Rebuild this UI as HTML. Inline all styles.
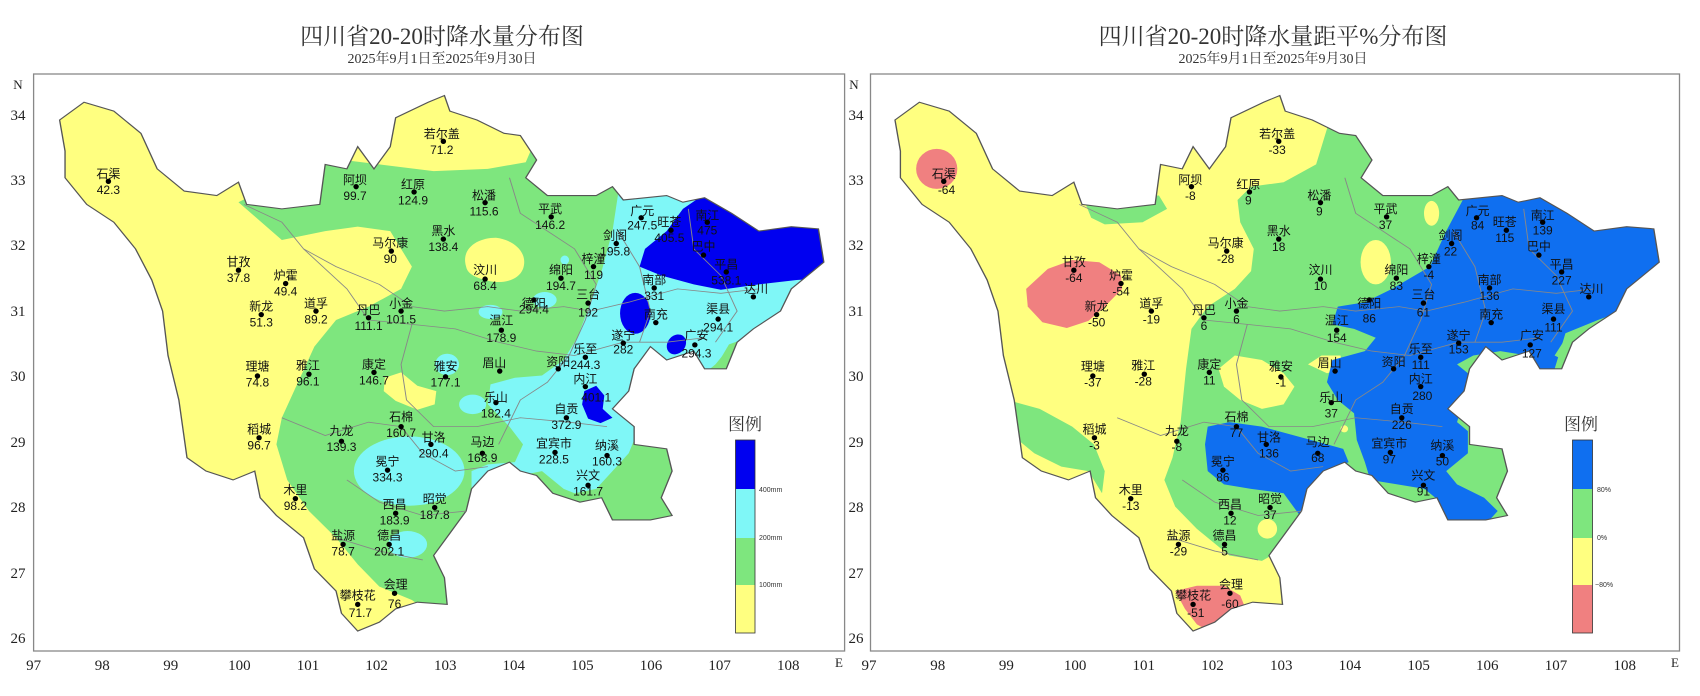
<!DOCTYPE html>
<html><head><meta charset="utf-8"><style>
html,body{margin:0;padding:0;background:#fff;}
svg{display:block;font-family:"Liberation Serif","Noto Serif CJK SC","Noto Sans CJK SC",serif;}
.st{font-size:12px;fill:#111;text-anchor:middle;font-family:"Liberation Sans","Noto Sans CJK SC",sans-serif;}
.ax{font-size:15px;fill:#222;}
</style></head><body>
<svg width="1700" height="696" viewBox="0 0 1700 696" xmlns="http://www.w3.org/2000/svg">
<defs>
<path id="ol" d="M110,270 L155,230 L210,250 L260,300 L290,380 L340,430 L400,440 L440,410 L455,460 L520,470 L590,460 L600,370 L640,380 L660,330 L690,380 L720,330 L730,265 L790,230 L820,215 L830,250 L880,270 L930,300 L960,305 L990,360 L970,400 L1010,440 L1100,440 L1130,420 L1150,450 L1230,440 L1260,455 L1300,445 L1350,480 L1400,520 L1460,510 L1510,515 L1520,590 L1480,630 L1460,650 L1440,700 L1390,740 L1360,770 L1340,830 L1300,830 L1280,790 L1230,810 L1200,780 L1170,830 L1160,880 L1130,920 L1170,960 L1170,1000 L1230,1010 L1240,1060 L1220,1120 L1240,1160 L1200,1170 L1130,1170 L1110,1120 L1070,1130 L1020,1110 L990,1070 L960,1060 L940,1040 L900,1060 L870,1100 L860,1150 L830,1200 L800,1250 L820,1300 L825,1360 L770,1355 L730,1370 L700,1400 L660,1420 L630,1380 L620,1330 L580,1280 L560,1210 L510,1160 L480,1120 L470,1060 L430,1080 L380,1060 L345,1030 L330,900 L310,800 L300,700 L280,630 L250,560 L210,500 L160,460 L120,400 L120,340 Z"/>
<clipPath id="c1"><use href="#ol"/></clipPath>
<clipPath id="c2"><use href="#ol" transform="translate(-27,0)"/></clipPath>
</defs>

<!-- Titles -->
<text x="442" y="44" font-size="23" text-anchor="middle" fill="#333">四川省20-20时降水量分布图</text>
<text x="442" y="63" font-size="14" text-anchor="middle" fill="#333">2025年9月1日至2025年9月30日</text>
<text x="1273" y="44" font-size="23" text-anchor="middle" fill="#333">四川省20-20时降水量距平%分布图</text>
<text x="1273" y="63" font-size="14" text-anchor="middle" fill="#333">2025年9月1日至2025年9月30日</text>

<!-- Frames -->
<rect x="33.6" y="74" width="811" height="577" fill="none" stroke="#888" stroke-width="1.3"/>
<rect x="870.5" y="74" width="809" height="577" fill="none" stroke="#888" stroke-width="1.3"/>

<!-- Left axes labels -->
<g class="ax" text-anchor="middle">
<text x="33.6" y="670">97</text><text x="102.2" y="670">98</text><text x="170.8" y="670">99</text><text x="239.4" y="670">100</text><text x="308" y="670">101</text><text x="376.6" y="670">102</text><text x="445.2" y="670">103</text><text x="513.8" y="670">104</text><text x="582.4" y="670">105</text><text x="651" y="670">106</text><text x="719.6" y="670">107</text><text x="788.2" y="670">108</text><text x="839" y="667" font-size="13">E</text>
<text x="18" y="89" font-size="13">N</text>
<text x="18" y="120">34</text><text x="18" y="185">33</text><text x="18" y="250">32</text><text x="18" y="316">31</text><text x="18" y="381">30</text><text x="18" y="447">29</text><text x="18" y="512">28</text><text x="18" y="578">27</text><text x="18" y="643">26</text>
</g>
<!-- Right axes labels -->
<g class="ax" text-anchor="middle">
<text x="869" y="670">97</text><text x="937.7" y="670">98</text><text x="1006.4" y="670">99</text><text x="1075.1" y="670">100</text><text x="1143.8" y="670">101</text><text x="1212.5" y="670">102</text><text x="1281.2" y="670">103</text><text x="1349.9" y="670">104</text><text x="1418.6" y="670">105</text><text x="1487.3" y="670">106</text><text x="1556" y="670">107</text><text x="1624.7" y="670">108</text><text x="1675" y="667" font-size="13">E</text>
<text x="854" y="89" font-size="13">N</text>
<text x="856" y="120">34</text><text x="856" y="185">33</text><text x="856" y="250">32</text><text x="856" y="316">31</text><text x="856" y="381">30</text><text x="856" y="447">29</text><text x="856" y="512">28</text><text x="856" y="578">27</text><text x="856" y="643">26</text>
</g>

<!-- LEFT MAP -->
<g transform="scale(0.542,0.4444)">
 <g clip-path="url(#c1)">
  <rect x="0" y="0" width="1700" height="1600" fill="#ffff80"/>
  <polygon fill="#7ee67e" points="440,455 600,355 700,370 800,385 900,380 970,365 1000,280 1600,280 1600,1500 840,1420 760,1350 700,1320 660,1270 620,1210 570,1150 530,1080 510,1000 520,940 550,860 580,780 620,720 680,690 740,650 760,600 720,520 660,510 600,520 520,540"/>
  <path fill="#ffff80" d="M860,600 C850,560 880,535 915,535 C950,540 975,570 965,605 C955,635 920,640 895,630 C870,622 862,612 860,600 Z"/>
  <polygon fill="#ffff80" points="710,850 740,838 770,868 805,880 802,910 770,922 730,902 708,880"/>
  <polygon fill="#7ff7f7" points="1140,400 1140,440 1130,520 1110,610 1090,680 1065,760 1040,810 1000,845 950,850 905,865 900,910 940,960 965,1000 950,1040 900,1045 870,1060 870,1140 900,1100 960,1070 1000,1060 1020,1080 1040,1100 1060,1110 1100,1100 1130,1060 1160,1020 1170,990 1180,960 1180,880 1290,850 1320,820 1340,790 1370,770 1390,740 1440,700 1600,600 1600,400"/>
  <polygon fill="#7ee67e" points="1328,810 1345,775 1368,765 1362,805 1340,830"/>
  <ellipse cx="755" cy="1060" rx="102" ry="78" fill="#7ff7f7"/>
  <ellipse cx="825" cy="820" rx="22" ry="24" fill="#7ff7f7"/>
  <ellipse cx="872" cy="910" rx="25" ry="22" fill="#7ff7f7"/>
  <ellipse cx="1005" cy="675" rx="22" ry="18" fill="#7ff7f7"/>
  <ellipse cx="905" cy="702" rx="22" ry="16" fill="#7ff7f7"/>
  <ellipse cx="1042" cy="585" rx="8" ry="10" fill="#7ff7f7"/>
  <ellipse cx="752" cy="1225" rx="36" ry="30" fill="#7ff7f7"/>
  <polygon fill="#0000f0" points="1180,600 1190,560 1230,520 1260,470 1290,445 1600,400 1600,620 1470,630 1400,640 1330,652 1280,640 1220,620"/>
  <ellipse cx="1172" cy="705" rx="28" ry="46" fill="#0000f0"/>
  <ellipse cx="1248" cy="775" rx="17" ry="23" fill="#0000f0" transform="rotate(20 1248 775)"/>
  <polygon fill="#0000f0" points="1078,880 1100,868 1115,890 1112,920 1130,940 1108,952 1085,942 1074,910"/>
 </g>
 <use href="#ol" fill="none" stroke="#555" stroke-width="2.5"/>
 <g fill="none" stroke="#888" stroke-width="1.8">
  <path d="M450,460 L520,500 L560,560 L620,600 L700,640 L760,690 L820,700 L900,690 L960,700 L1040,690 L1090,700 L1160,680 L1250,650 L1330,660 L1400,650"/>
  <path d="M560,560 L640,650 L680,720 L760,730 L840,740 L920,770 L990,790 L1060,800 L1150,770 L1230,770 L1300,760"/>
  <path d="M760,730 L740,820 L750,900 L800,960 L880,960 L960,940 L1050,950 L1120,960"/>
  <path d="M940,400 L960,480 L1010,520 L1060,560 L1100,640 L1080,720 L1050,800 L1010,860 L960,900 L920,1000"/>
  <path d="M1140,520 L1180,600 L1200,700 L1180,770"/>
  <path d="M1270,470 L1280,560 L1330,620 L1360,700 L1320,770"/>
  <path d="M520,940 L600,980 L680,950 L740,960 L780,1020 L840,1060 L900,1050"/>
  <path d="M640,1080 L700,1130 L780,1160 L860,1150"/>
  <path d="M620,1210 L700,1240 L780,1260"/>
 </g>
</g>
<g transform="scale(0.542,0.4444)">
 <g fill="#000">
 <ellipse cx="200" cy="408" rx="5" ry="6"/><ellipse cx="818" cy="318" rx="5" ry="6"/><ellipse cx="657" cy="420" rx="5" ry="6"/><ellipse cx="764" cy="432" rx="5" ry="6"/><ellipse cx="895" cy="456" rx="5" ry="6"/><ellipse cx="1017" cy="488" rx="5" ry="6"/><ellipse cx="1183" cy="490" rx="5" ry="6"/><ellipse cx="1238" cy="518" rx="5" ry="6"/><ellipse cx="1305" cy="500" rx="5" ry="6"/><ellipse cx="1137" cy="548" rx="5" ry="6"/><ellipse cx="1298" cy="574" rx="5" ry="6"/><ellipse cx="1340" cy="612" rx="5" ry="6"/><ellipse cx="722" cy="565" rx="5" ry="6"/><ellipse cx="818" cy="538" rx="5" ry="6"/><ellipse cx="895" cy="628" rx="5" ry="6"/><ellipse cx="1035" cy="626" rx="5" ry="6"/><ellipse cx="1095" cy="600" rx="5" ry="6"/><ellipse cx="440" cy="608" rx="5" ry="6"/><ellipse cx="527" cy="638" rx="5" ry="6"/><ellipse cx="482" cy="708" rx="5" ry="6"/><ellipse cx="583" cy="700" rx="5" ry="6"/><ellipse cx="680" cy="715" rx="5" ry="6"/><ellipse cx="740" cy="700" rx="5" ry="6"/><ellipse cx="985" cy="675" rx="5" ry="6"/><ellipse cx="1085" cy="682" rx="5" ry="6"/><ellipse cx="1207" cy="648" rx="5" ry="6"/><ellipse cx="1390" cy="668" rx="5" ry="6"/><ellipse cx="1210" cy="726" rx="5" ry="6"/><ellipse cx="1325" cy="718" rx="5" ry="6"/><ellipse cx="925" cy="743" rx="5" ry="6"/><ellipse cx="1150" cy="772" rx="5" ry="6"/><ellipse cx="1282" cy="776" rx="5" ry="6"/><ellipse cx="475" cy="846" rx="5" ry="6"/><ellipse cx="570" cy="842" rx="5" ry="6"/><ellipse cx="690" cy="838" rx="5" ry="6"/><ellipse cx="822" cy="848" rx="5" ry="6"/><ellipse cx="922" cy="835" rx="5" ry="6"/><ellipse cx="1030" cy="830" rx="5" ry="6"/><ellipse cx="1080" cy="804" rx="5" ry="6"/><ellipse cx="1080" cy="870" rx="5" ry="6"/><ellipse cx="915" cy="906" rx="5" ry="6"/><ellipse cx="1045" cy="940" rx="5" ry="6"/><ellipse cx="478" cy="985" rx="5" ry="6"/><ellipse cx="630" cy="993" rx="5" ry="6"/><ellipse cx="740" cy="960" rx="5" ry="6"/><ellipse cx="795" cy="1000" rx="5" ry="6"/><ellipse cx="890" cy="1020" rx="5" ry="6"/><ellipse cx="1024" cy="1018" rx="5" ry="6"/><ellipse cx="1120" cy="1025" rx="5" ry="6"/><ellipse cx="715" cy="1058" rx="5" ry="6"/><ellipse cx="1085" cy="1092" rx="5" ry="6"/><ellipse cx="545" cy="1122" rx="5" ry="6"/><ellipse cx="730" cy="1155" rx="5" ry="6"/><ellipse cx="802" cy="1142" rx="5" ry="6"/><ellipse cx="633" cy="1225" rx="5" ry="6"/><ellipse cx="718" cy="1225" rx="5" ry="6"/><ellipse cx="728" cy="1335" rx="5" ry="6"/><ellipse cx="660" cy="1360" rx="5" ry="6"/>
 </g>
 <g class="st">
 <text transform="translate(200 400) scale(1.845 2.25)">石渠</text><text transform="translate(200 437) scale(1.845 2.25)">42.3</text>
 <text transform="translate(815 310) scale(1.845 2.25)">若尔盖</text><text transform="translate(815 346) scale(1.845 2.25)">71.2</text>
 <text transform="translate(655 414) scale(1.845 2.25)">阿坝</text><text transform="translate(655 450) scale(1.845 2.25)">99.7</text>
 <text transform="translate(762 424) scale(1.845 2.25)">红原</text><text transform="translate(762 460) scale(1.845 2.25)">124.9</text>
 <text transform="translate(893 449) scale(1.845 2.25)">松潘</text><text transform="translate(893 485) scale(1.845 2.25)">115.6</text>
 <text transform="translate(1015 479) scale(1.845 2.25)">平武</text><text transform="translate(1015 515) scale(1.845 2.25)">146.2</text>
 <text transform="translate(1185 484) scale(1.845 2.25)">广元</text><text transform="translate(1185 516) scale(1.845 2.25)">247.5</text>
 <text transform="translate(1235 509) scale(1.845 2.25)">旺苍</text><text transform="translate(1235 544) scale(1.845 2.25)">405.5</text>
 <text transform="translate(1305 494) scale(1.845 2.25)">南江</text><text transform="translate(1305 528) scale(1.845 2.25)">475</text>
 <text transform="translate(1135 539) scale(1.845 2.25)">剑阁</text><text transform="translate(1135 575) scale(1.845 2.25)">195.8</text>
 <text transform="translate(1298 564) scale(1.845 2.25)">巴中</text>
 <text transform="translate(1340 604) scale(1.845 2.25)">平昌</text><text transform="translate(1340 640) scale(1.845 2.25)">538.1</text>
 <text transform="translate(720 556) scale(1.845 2.25)">马尔康</text><text transform="translate(720 592) scale(1.845 2.25)">90</text>
 <text transform="translate(818 529) scale(1.845 2.25)">黑水</text><text transform="translate(818 565) scale(1.845 2.25)">138.4</text>
 <text transform="translate(895 617) scale(1.845 2.25)">汶川</text><text transform="translate(895 653) scale(1.845 2.25)">68.4</text>
 <text transform="translate(1035 617) scale(1.845 2.25)">绵阳</text><text transform="translate(1035 653) scale(1.845 2.25)">194.7</text>
 <text transform="translate(1095 592) scale(1.845 2.25)">梓潼</text><text transform="translate(1095 628) scale(1.845 2.25)">119</text>
 <text transform="translate(440 599) scale(1.845 2.25)">甘孜</text><text transform="translate(440 635) scale(1.845 2.25)">37.8</text>
 <text transform="translate(527 629) scale(1.845 2.25)">炉霍</text><text transform="translate(527 665) scale(1.845 2.25)">49.4</text>
 <text transform="translate(482 699) scale(1.845 2.25)">新龙</text><text transform="translate(482 735) scale(1.845 2.25)">51.3</text>
 <text transform="translate(583 692) scale(1.845 2.25)">道孚</text><text transform="translate(583 728) scale(1.845 2.25)">89.2</text>
 <text transform="translate(680 707) scale(1.845 2.25)">丹巴</text><text transform="translate(680 743) scale(1.845 2.25)">111.1</text>
 <text transform="translate(740 692) scale(1.845 2.25)">小金</text><text transform="translate(740 728) scale(1.845 2.25)">101.5</text>
 <text transform="translate(985 692) scale(1.845 2.25)">德阳</text><text transform="translate(985 706) scale(1.845 2.25)">294.4</text>
 <text transform="translate(1085 672) scale(1.845 2.25)">三台</text><text transform="translate(1085 712) scale(1.845 2.25)">192</text>
 <text transform="translate(1207 639) scale(1.845 2.25)">南部</text><text transform="translate(1207 675) scale(1.845 2.25)">331</text>
 <text transform="translate(1395 659) scale(1.845 2.25)">达川</text>
 <text transform="translate(1210 717) scale(1.845 2.25)">南充</text>
 <text transform="translate(1325 704) scale(1.845 2.25)">渠县</text><text transform="translate(1325 746) scale(1.845 2.25)">294.1</text>
 <text transform="translate(925 730) scale(1.845 2.25)">温江</text><text transform="translate(925 770) scale(1.845 2.25)">178.9</text>
 <text transform="translate(1150 764) scale(1.845 2.25)">遂宁</text><text transform="translate(1150 796) scale(1.845 2.25)">282</text>
 <text transform="translate(1285 764) scale(1.845 2.25)">广安</text><text transform="translate(1285 804) scale(1.845 2.25)">294.3</text>
 <text transform="translate(475 834) scale(1.845 2.25)">理塘</text><text transform="translate(475 870) scale(1.845 2.25)">74.8</text>
 <text transform="translate(568 832) scale(1.845 2.25)">雅江</text><text transform="translate(568 868) scale(1.845 2.25)">96.1</text>
 <text transform="translate(690 829) scale(1.845 2.25)">康定</text><text transform="translate(690 865) scale(1.845 2.25)">146.7</text>
 <text transform="translate(822 834) scale(1.845 2.25)">雅安</text><text transform="translate(822 870) scale(1.845 2.25)">177.1</text>
 <text transform="translate(912 826) scale(1.845 2.25)">眉山</text>
 <text transform="translate(1030 824) scale(1.845 2.25)">资阳</text>
 <text transform="translate(1080 794) scale(1.845 2.25)">乐至</text><text transform="translate(1080 830) scale(1.845 2.25)">244.3</text>
 <text transform="translate(1080 862) scale(1.845 2.25)">内江</text><text transform="translate(1100 904) scale(1.845 2.25)">401.1</text>
 <text transform="translate(915 904) scale(1.845 2.25)">乐山</text><text transform="translate(915 940) scale(1.845 2.25)">182.4</text>
 <text transform="translate(1045 929) scale(1.845 2.25)">自贡</text><text transform="translate(1045 965) scale(1.845 2.25)">372.9</text>
 <text transform="translate(478 976) scale(1.845 2.25)">稻城</text><text transform="translate(478 1012) scale(1.845 2.25)">96.7</text>
 <text transform="translate(630 979) scale(1.845 2.25)">九龙</text><text transform="translate(630 1015) scale(1.845 2.25)">139.3</text>
 <text transform="translate(740 947) scale(1.845 2.25)">石棉</text><text transform="translate(740 983) scale(1.845 2.25)">160.7</text>
 <text transform="translate(800 994) scale(1.845 2.25)">甘洛</text><text transform="translate(800 1030) scale(1.845 2.25)">290.4</text>
 <text transform="translate(890 1004) scale(1.845 2.25)">马边</text><text transform="translate(890 1040) scale(1.845 2.25)">168.9</text>
 <text transform="translate(1022 1007) scale(1.845 2.25)">宜宾市</text><text transform="translate(1022 1043) scale(1.845 2.25)">228.5</text>
 <text transform="translate(1120 1012) scale(1.845 2.25)">纳溪</text><text transform="translate(1120 1048) scale(1.845 2.25)">160.3</text>
 <text transform="translate(715 1047) scale(1.845 2.25)">冕宁</text><text transform="translate(715 1083) scale(1.845 2.25)">334.3</text>
 <text transform="translate(1085 1079) scale(1.845 2.25)">兴文</text><text transform="translate(1085 1115) scale(1.845 2.25)">161.7</text>
 <text transform="translate(545 1112) scale(1.845 2.25)">木里</text><text transform="translate(545 1148) scale(1.845 2.25)">98.2</text>
 <text transform="translate(728 1144) scale(1.845 2.25)">西昌</text><text transform="translate(728 1180) scale(1.845 2.25)">183.9</text>
 <text transform="translate(802 1132) scale(1.845 2.25)">昭觉</text><text transform="translate(802 1168) scale(1.845 2.25)">187.8</text>
 <text transform="translate(633 1214) scale(1.845 2.25)">盐源</text><text transform="translate(633 1250) scale(1.845 2.25)">78.7</text>
 <text transform="translate(718 1214) scale(1.845 2.25)">德昌</text><text transform="translate(718 1250) scale(1.845 2.25)">202.1</text>
 <text transform="translate(730 1324) scale(1.845 2.25)">会理</text><text transform="translate(728 1368) scale(1.845 2.25)">76</text>
 <text transform="translate(660 1349) scale(1.845 2.25)">攀枝花</text><text transform="translate(665 1388) scale(1.845 2.25)">71.7</text>
 </g>
</g>

<!-- Left legend -->
<text x="745" y="430" font-size="17" text-anchor="middle" fill="#333">图例</text>
<rect x="735.5" y="440" width="19.5" height="49" fill="#0000f0"/>
<rect x="735.5" y="489" width="19.5" height="49" fill="#7ff7f7"/>
<rect x="735.5" y="538" width="19.5" height="47" fill="#7ee67e"/>
<rect x="735.5" y="585" width="19.5" height="48" fill="#ffff80"/>
<rect x="735.5" y="440" width="19.5" height="193" fill="none" stroke="#333" stroke-width="0.8"/>
<g font-size="7" fill="#333" font-family="Liberation Sans,sans-serif"><text x="759" y="492">400mm</text><text x="759" y="540">200mm</text><text x="759" y="587">100mm</text></g>

<!-- RIGHT MAP -->
<g transform="translate(850,0) scale(0.542,0.4444)">
 <g clip-path="url(#c2)">
  <rect x="0" y="0" width="1700" height="1600" fill="#ffff80"/>
  <polygon fill="#7ee67e" points="880,290 860,370 800,410 740,420 715,450 720,500 745,560 740,610 710,650 660,690 630,740 620,830 610,950 595,1030 580,1080 600,1140 640,1190 700,1250 760,1262 800,1235 840,1180 900,1300 1600,1300 1600,200 900,200"/>
  <polygon fill="#7ee67e" points="430,445 570,440 585,470 540,500 470,505 445,490"/>
  <polygon fill="#7ee67e" points="290,900 350,920 410,960 450,1000 470,1060 465,1110 440,1060 390,1050 340,1020 300,980"/>
  <polygon fill="#ffff80" points="680,830 710,800 760,810 800,840 820,870 800,910 760,920 720,900 690,870"/>
  <polygon fill="#ffff80" points="845,820 870,800 905,800 910,830 880,840"/>
  <ellipse cx="970" cy="590" rx="28" ry="50" fill="#ffff80"/>
  <ellipse cx="1073" cy="480" rx="14" ry="28" fill="#ffff80"/>
  <ellipse cx="912" cy="965" rx="7" ry="8" fill="#ffff80"/>
  <ellipse cx="770" cy="1190" rx="18" ry="22" fill="#ffff80"/>
  <ellipse cx="160" cy="380" rx="38" ry="45" fill="#f08080"/>
  <polygon fill="#f08080" points="325,650 365,605 410,585 460,590 500,620 502,650 470,690 440,722 400,738 355,725 328,690"/>
  <polygon fill="#f08080" points="600,1330 640,1318 690,1318 720,1340 735,1385 700,1402 670,1425 640,1405 618,1370"/>
  <polygon fill="#0f6ff0" points="1160,400 1135,440 1100,520 1070,600 1000,650 950,680 900,690 890,730 930,740 970,760 950,790 890,810 880,860 900,900 930,930 935,990 950,1040 960,1080 1010,1090 1060,1100 1080,1120 1090,1170 1140,1180 1180,1170 1195,1150 1170,1120 1120,1090 1100,1060 1140,1020 1140,970 1120,950 1140,870 1140,840 1120,820 1150,800 1200,790 1250,800 1270,835 1300,830 1310,790 1320,750 1380,720 1600,620 1600,400"/>
  <polygon fill="#7ee67e" points="1300,800 1325,752 1360,738 1352,790 1320,812"/>
  <polygon fill="#0f6ff0" points="660,960 700,950 760,960 820,980 880,1000 910,1010 920,1040 880,1060 860,1110 860,1175 830,1160 800,1110 740,1100 690,1090 660,1060 655,1000"/>
 </g>
 <g transform="translate(-27,0)">
 <use href="#ol" fill="none" stroke="#555" stroke-width="2.5"/>
 <g fill="none" stroke="#888" stroke-width="1.8">
  <path d="M450,460 L520,500 L560,560 L620,600 L700,640 L760,690 L820,700 L900,690 L960,700 L1040,690 L1090,700 L1160,680 L1250,650 L1330,660 L1400,650"/>
  <path d="M560,560 L640,650 L680,720 L760,730 L840,740 L920,770 L990,790 L1060,800 L1150,770 L1230,770 L1300,760"/>
  <path d="M760,730 L740,820 L750,900 L800,960 L880,960 L960,940 L1050,950 L1120,960"/>
  <path d="M940,400 L960,480 L1010,520 L1060,560 L1100,640 L1080,720 L1050,800 L1010,860 L960,900 L920,1000"/>
  <path d="M1140,520 L1180,600 L1200,700 L1180,770"/>
  <path d="M1270,470 L1280,560 L1330,620 L1360,700 L1320,770"/>
  <path d="M520,940 L600,980 L680,950 L740,960 L780,1020 L840,1060 L900,1050"/>
  <path d="M640,1080 L700,1130 L780,1160 L860,1150"/>
  <path d="M620,1210 L700,1240 L780,1260"/>
 </g>
 <g fill="#000">
 <ellipse cx="200" cy="408" rx="5" ry="6"/><ellipse cx="818" cy="318" rx="5" ry="6"/><ellipse cx="657" cy="420" rx="5" ry="6"/><ellipse cx="764" cy="432" rx="5" ry="6"/><ellipse cx="895" cy="456" rx="5" ry="6"/><ellipse cx="1017" cy="488" rx="5" ry="6"/><ellipse cx="1183" cy="490" rx="5" ry="6"/><ellipse cx="1238" cy="518" rx="5" ry="6"/><ellipse cx="1305" cy="500" rx="5" ry="6"/><ellipse cx="1137" cy="548" rx="5" ry="6"/><ellipse cx="1298" cy="574" rx="5" ry="6"/><ellipse cx="1340" cy="612" rx="5" ry="6"/><ellipse cx="722" cy="565" rx="5" ry="6"/><ellipse cx="818" cy="538" rx="5" ry="6"/><ellipse cx="895" cy="628" rx="5" ry="6"/><ellipse cx="1035" cy="626" rx="5" ry="6"/><ellipse cx="1095" cy="600" rx="5" ry="6"/><ellipse cx="440" cy="608" rx="5" ry="6"/><ellipse cx="527" cy="638" rx="5" ry="6"/><ellipse cx="482" cy="708" rx="5" ry="6"/><ellipse cx="583" cy="700" rx="5" ry="6"/><ellipse cx="680" cy="715" rx="5" ry="6"/><ellipse cx="740" cy="700" rx="5" ry="6"/><ellipse cx="985" cy="675" rx="5" ry="6"/><ellipse cx="1085" cy="682" rx="5" ry="6"/><ellipse cx="1207" cy="648" rx="5" ry="6"/><ellipse cx="1390" cy="668" rx="5" ry="6"/><ellipse cx="1210" cy="726" rx="5" ry="6"/><ellipse cx="1325" cy="718" rx="5" ry="6"/><ellipse cx="925" cy="743" rx="5" ry="6"/><ellipse cx="1150" cy="772" rx="5" ry="6"/><ellipse cx="1282" cy="776" rx="5" ry="6"/><ellipse cx="475" cy="846" rx="5" ry="6"/><ellipse cx="570" cy="842" rx="5" ry="6"/><ellipse cx="690" cy="838" rx="5" ry="6"/><ellipse cx="822" cy="848" rx="5" ry="6"/><ellipse cx="922" cy="835" rx="5" ry="6"/><ellipse cx="1030" cy="830" rx="5" ry="6"/><ellipse cx="1080" cy="804" rx="5" ry="6"/><ellipse cx="1080" cy="870" rx="5" ry="6"/><ellipse cx="915" cy="906" rx="5" ry="6"/><ellipse cx="1045" cy="940" rx="5" ry="6"/><ellipse cx="478" cy="985" rx="5" ry="6"/><ellipse cx="630" cy="993" rx="5" ry="6"/><ellipse cx="740" cy="960" rx="5" ry="6"/><ellipse cx="795" cy="1000" rx="5" ry="6"/><ellipse cx="890" cy="1020" rx="5" ry="6"/><ellipse cx="1024" cy="1018" rx="5" ry="6"/><ellipse cx="1120" cy="1025" rx="5" ry="6"/><ellipse cx="715" cy="1058" rx="5" ry="6"/><ellipse cx="1085" cy="1092" rx="5" ry="6"/><ellipse cx="545" cy="1122" rx="5" ry="6"/><ellipse cx="730" cy="1155" rx="5" ry="6"/><ellipse cx="802" cy="1142" rx="5" ry="6"/><ellipse cx="633" cy="1225" rx="5" ry="6"/><ellipse cx="718" cy="1225" rx="5" ry="6"/><ellipse cx="728" cy="1335" rx="5" ry="6"/><ellipse cx="660" cy="1360" rx="5" ry="6"/>
 </g>
 <g class="st">
 <text transform="translate(200 400) scale(1.845 2.25)">石渠</text><text transform="translate(205 437) scale(1.845 2.25)">-64</text>
 <text transform="translate(815 310) scale(1.845 2.25)">若尔盖</text><text transform="translate(815 346) scale(1.845 2.25)">-33</text>
 <text transform="translate(655 414) scale(1.845 2.25)">阿坝</text><text transform="translate(655 450) scale(1.845 2.25)">-8</text>
 <text transform="translate(762 424) scale(1.845 2.25)">红原</text><text transform="translate(762 460) scale(1.845 2.25)">9</text>
 <text transform="translate(893 449) scale(1.845 2.25)">松潘</text><text transform="translate(893 485) scale(1.845 2.25)">9</text>
 <text transform="translate(1015 479) scale(1.845 2.25)">平武</text><text transform="translate(1015 515) scale(1.845 2.25)">37</text>
 <text transform="translate(1185 484) scale(1.845 2.25)">广元</text><text transform="translate(1185 516) scale(1.845 2.25)">84</text>
 <text transform="translate(1235 509) scale(1.845 2.25)">旺苍</text><text transform="translate(1235 544) scale(1.845 2.25)">115</text>
 <text transform="translate(1305 494) scale(1.845 2.25)">南江</text><text transform="translate(1305 528) scale(1.845 2.25)">139</text>
 <text transform="translate(1135 539) scale(1.845 2.25)">剑阁</text><text transform="translate(1135 575) scale(1.845 2.25)">22</text>
 <text transform="translate(1298 564) scale(1.845 2.25)">巴中</text>
 <text transform="translate(1340 604) scale(1.845 2.25)">平昌</text><text transform="translate(1340 640) scale(1.845 2.25)">227</text>
 <text transform="translate(720 556) scale(1.845 2.25)">马尔康</text><text transform="translate(720 592) scale(1.845 2.25)">-28</text>
 <text transform="translate(818 529) scale(1.845 2.25)">黑水</text><text transform="translate(818 565) scale(1.845 2.25)">18</text>
 <text transform="translate(895 617) scale(1.845 2.25)">汶川</text><text transform="translate(895 653) scale(1.845 2.25)">10</text>
 <text transform="translate(1035 617) scale(1.845 2.25)">绵阳</text><text transform="translate(1035 653) scale(1.845 2.25)">83</text>
 <text transform="translate(1095 592) scale(1.845 2.25)">梓潼</text><text transform="translate(1095 628) scale(1.845 2.25)">-4</text>
 <text transform="translate(440 599) scale(1.845 2.25)">甘孜</text><text transform="translate(440 635) scale(1.845 2.25)">-64</text>
 <text transform="translate(527 629) scale(1.845 2.25)">炉霍</text><text transform="translate(527 665) scale(1.845 2.25)">-54</text>
 <text transform="translate(482 699) scale(1.845 2.25)">新龙</text><text transform="translate(482 735) scale(1.845 2.25)">-50</text>
 <text transform="translate(583 692) scale(1.845 2.25)">道孚</text><text transform="translate(583 728) scale(1.845 2.25)">-19</text>
 <text transform="translate(680 707) scale(1.845 2.25)">丹巴</text><text transform="translate(680 743) scale(1.845 2.25)">6</text>
 <text transform="translate(740 692) scale(1.845 2.25)">小金</text><text transform="translate(740 728) scale(1.845 2.25)">6</text>
 <text transform="translate(985 692) scale(1.845 2.25)">德阳</text><text transform="translate(985 726) scale(1.845 2.25)">86</text>
 <text transform="translate(1085 672) scale(1.845 2.25)">三台</text><text transform="translate(1085 712) scale(1.845 2.25)">61</text>
 <text transform="translate(1207 639) scale(1.845 2.25)">南部</text><text transform="translate(1207 675) scale(1.845 2.25)">136</text>
 <text transform="translate(1395 659) scale(1.845 2.25)">达川</text>
 <text transform="translate(1210 717) scale(1.845 2.25)">南充</text>
 <text transform="translate(1325 704) scale(1.845 2.25)">渠县</text><text transform="translate(1325 746) scale(1.845 2.25)">111</text>
 <text transform="translate(925 730) scale(1.845 2.25)">温江</text><text transform="translate(925 770) scale(1.845 2.25)">154</text>
 <text transform="translate(1150 764) scale(1.845 2.25)">遂宁</text><text transform="translate(1150 796) scale(1.845 2.25)">153</text>
 <text transform="translate(1285 764) scale(1.845 2.25)">广安</text><text transform="translate(1285 804) scale(1.845 2.25)">127</text>
 <text transform="translate(475 834) scale(1.845 2.25)">理塘</text><text transform="translate(475 870) scale(1.845 2.25)">-37</text>
 <text transform="translate(568 832) scale(1.845 2.25)">雅江</text><text transform="translate(568 868) scale(1.845 2.25)">-28</text>
 <text transform="translate(690 829) scale(1.845 2.25)">康定</text><text transform="translate(690 865) scale(1.845 2.25)">11</text>
 <text transform="translate(822 834) scale(1.845 2.25)">雅安</text><text transform="translate(822 870) scale(1.845 2.25)">-1</text>
 <text transform="translate(912 826) scale(1.845 2.25)">眉山</text>
 <text transform="translate(1030 824) scale(1.845 2.25)">资阳</text>
 <text transform="translate(1080 794) scale(1.845 2.25)">乐至</text><text transform="translate(1080 830) scale(1.845 2.25)">111</text>
 <text transform="translate(1080 862) scale(1.845 2.25)">内江</text><text transform="translate(1083 900) scale(1.845 2.25)">280</text>
 <text transform="translate(915 904) scale(1.845 2.25)">乐山</text><text transform="translate(915 940) scale(1.845 2.25)">37</text>
 <text transform="translate(1045 929) scale(1.845 2.25)">自贡</text><text transform="translate(1045 965) scale(1.845 2.25)">226</text>
 <text transform="translate(478 976) scale(1.845 2.25)">稻城</text><text transform="translate(478 1012) scale(1.845 2.25)">-3</text>
 <text transform="translate(630 979) scale(1.845 2.25)">九龙</text><text transform="translate(630 1015) scale(1.845 2.25)">-8</text>
 <text transform="translate(740 947) scale(1.845 2.25)">石棉</text><text transform="translate(740 983) scale(1.845 2.25)">77</text>
 <text transform="translate(800 994) scale(1.845 2.25)">甘洛</text><text transform="translate(800 1030) scale(1.845 2.25)">136</text>
 <text transform="translate(890 1004) scale(1.845 2.25)">马边</text><text transform="translate(890 1040) scale(1.845 2.25)">68</text>
 <text transform="translate(1022 1007) scale(1.845 2.25)">宜宾市</text><text transform="translate(1022 1043) scale(1.845 2.25)">97</text>
 <text transform="translate(1120 1012) scale(1.845 2.25)">纳溪</text><text transform="translate(1120 1048) scale(1.845 2.25)">50</text>
 <text transform="translate(715 1047) scale(1.845 2.25)">冕宁</text><text transform="translate(715 1083) scale(1.845 2.25)">86</text>
 <text transform="translate(1085 1079) scale(1.845 2.25)">兴文</text><text transform="translate(1085 1115) scale(1.845 2.25)">91</text>
 <text transform="translate(545 1112) scale(1.845 2.25)">木里</text><text transform="translate(545 1148) scale(1.845 2.25)">-13</text>
 <text transform="translate(728 1144) scale(1.845 2.25)">西昌</text><text transform="translate(728 1180) scale(1.845 2.25)">12</text>
 <text transform="translate(802 1132) scale(1.845 2.25)">昭觉</text><text transform="translate(802 1168) scale(1.845 2.25)">37</text>
 <text transform="translate(633 1214) scale(1.845 2.25)">盐源</text><text transform="translate(633 1250) scale(1.845 2.25)">-29</text>
 <text transform="translate(718 1214) scale(1.845 2.25)">德昌</text><text transform="translate(718 1250) scale(1.845 2.25)">5</text>
 <text transform="translate(730 1324) scale(1.845 2.25)">会理</text><text transform="translate(728 1368) scale(1.845 2.25)">-60</text>
 <text transform="translate(660 1349) scale(1.845 2.25)">攀枝花</text><text transform="translate(665 1388) scale(1.845 2.25)">-51</text>
 </g>
 </g>
</g>

<!-- Right legend -->
<text x="1581" y="430" font-size="17" text-anchor="middle" fill="#333">图例</text>
<rect x="1572.5" y="440" width="20" height="49" fill="#0f6ff0"/>
<rect x="1572.5" y="489" width="20" height="49" fill="#7ee67e"/>
<rect x="1572.5" y="538" width="20" height="47" fill="#ffff80"/>
<rect x="1572.5" y="585" width="20" height="48" fill="#f08080"/>
<rect x="1572.5" y="440" width="20" height="193" fill="none" stroke="#333" stroke-width="0.8"/>
<g font-size="7" fill="#333" font-family="Liberation Sans,sans-serif"><text x="1597" y="492">80%</text><text x="1597" y="540">0%</text><text x="1595" y="587">−80%</text></g>
</svg>
</body></html>
